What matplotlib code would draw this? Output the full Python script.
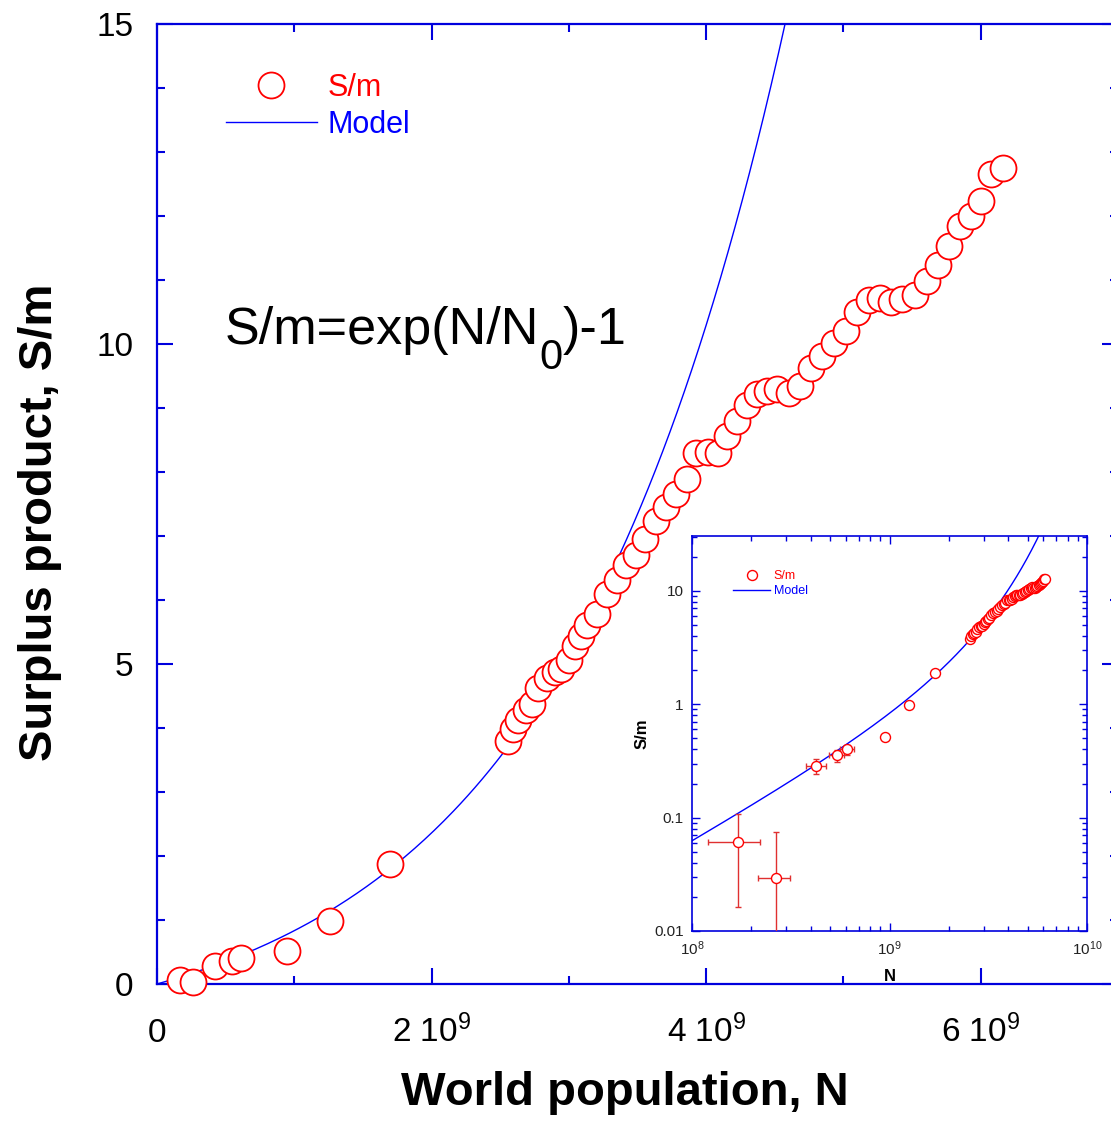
import numpy as np
import matplotlib
matplotlib.use('Agg')
import matplotlib.pyplot as plt
from matplotlib.lines import Line2D
from matplotlib.ticker import MultipleLocator, FixedLocator, FixedFormatter, LogLocator, NullFormatter

plt.rcParams['font.family'] = ['Liberation Sans', 'DejaVu Sans']
plt.rcParams['mathtext.fontset'] = 'custom'
plt.rcParams['mathtext.rm'] = 'Liberation Sans'
plt.rcParams['mathtext.it'] = 'Liberation Sans:italic'
plt.rcParams['mathtext.bf'] = 'Liberation Sans:bold'

# ---------------- data ----------------
# early estimates (with uncertainties, shown in the inset)
early_N = [1.70e8, 2.65e8, 4.25e8, 5.45e8, 6.10e8]
early_S = [0.061, 0.0295, 0.287, 0.357, 0.400]
early_N_lo = [1.20e8, 2.15e8, 3.77e8, 4.95e8, 5.60e8]
early_N_hi = [2.20e8, 3.15e8, 4.76e8, 5.85e8, 6.60e8]
early_S_lo = [0.0163, 0.001, 0.243, 0.311, 0.360]
early_S_hi = [0.108, 0.075, 0.331, 0.395, 0.437]

# later data points (no error bars)
late_N = [9.5e8, 1.26e9, 1.70e9,
          2.554e9, 2.591e9, 2.632e9, 2.685e9, 2.729e9, 2.777e9, 2.840e9, 2.900e9,
          2.945e9, 3.000e9, 3.044e9, 3.085e9, 3.135e9, 3.207e9, 3.275e9, 3.348e9,
          3.416e9, 3.486e9, 3.554e9, 3.632e9, 3.705e9, 3.782e9, 3.858e9, 3.928e9,
          4.010e9, 4.085e9, 4.155e9, 4.227e9, 4.298e9, 4.370e9, 4.440e9, 4.518e9,
          4.600e9, 4.683e9, 4.765e9, 4.843e9, 4.928e9, 5.016e9, 5.101e9, 5.187e9,
          5.270e9, 5.350e9, 5.430e9, 5.523e9, 5.608e9, 5.691e9, 5.768e9, 5.846e9,
          5.928e9, 6.003e9, 6.074e9, 6.159e9]
late_S = [0.515, 0.98, 1.87,
          3.79, 3.98, 4.13, 4.28, 4.38, 4.62, 4.78, 4.87,
          4.92, 5.07, 5.28, 5.43, 5.61, 5.78, 6.10, 6.32,
          6.54, 6.70, 6.96, 7.23, 7.46, 7.65, 7.89, 8.29,
          8.32, 8.30, 8.57, 8.80, 9.04, 9.22, 9.27, 9.29,
          9.23, 9.34, 9.62, 9.81, 10.01, 10.21, 10.50, 10.68,
          10.72, 10.66, 10.70, 10.77, 10.98, 11.23, 11.53, 11.84,
          12.00, 12.24, 12.66, 12.75]

N0 = 1.65e9  # model parameter: S/m = exp(N/N0) - 1

all_N = np.array(early_N + late_N)
all_S = np.array(early_S + late_S)

RED = '#ff0000'
BLUE = '#0000ff'
SPINE = '#0000dd'

fig = plt.figure(figsize=(11.11, 11.24), dpi=100)

# ---------------- main axes ----------------
ax = fig.add_axes([157/1111, 140/1124, (1118-157)/1111, 960/1124])
Nm = np.linspace(0, 7e9, 400)
ax.plot(Nm, np.exp(Nm / N0) - 1, color=BLUE, lw=1.0, zorder=2)
ax.plot(all_N, all_S, ls='none', marker='o', ms=18.7, mfc='white', mec=RED,
        mew=1.3, zorder=3, clip_on=False)
ax.set_xlim(0, 7e9)
ax.set_ylim(0, 15)

for s in ax.spines.values():
    s.set_color(SPINE)
    s.set_linewidth(1.6)

ax.xaxis.set_major_locator(FixedLocator([0, 2e9, 4e9, 6e9]))
ax.xaxis.set_minor_locator(MultipleLocator(1e9))
ax.set_xticklabels(['0', r'2 10$^{9}$', r'4 10$^{9}$', r'6 10$^{9}$'])
ax.yaxis.set_major_locator(MultipleLocator(5))
ax.yaxis.set_minor_locator(MultipleLocator(1))
ax.tick_params(which='both', direction='in', top=True, right=True, color=SPINE, width=1.5)
ax.tick_params(which='major', length=11.5)
ax.tick_params(which='minor', length=5.8)
ax.tick_params(axis='y', which='major', labelsize=24, pad=17)
ax.tick_params(axis='x', which='major', labelsize=24, pad=42)
for lab in ax.get_xticklabels():
    lab.set_verticalalignment('baseline')

ax.set_xlabel('World population, N', fontsize=34, fontweight='bold')
ax.xaxis.set_label_coords(0.487, -0.0905)
ax.set_ylabel('Surplus product, S/m', fontsize=34, fontweight='bold')
ax.yaxis.set_label_coords(-0.122, 0.481)
ax.yaxis.label.set_verticalalignment('center')

# formula annotation, built from pieces so the subscript sits low and large
t1 = ax.text(0.495e9, 10.0, 'S/m=exp(N/N', fontsize=37.5, va='baseline', ha='left')
t2 = ax.annotate('0', xy=(1, 0), xycoords=t1, xytext=(0, -10), textcoords='offset points',
                 fontsize=30, va='baseline', ha='left')
t3 = ax.annotate(')-1', xy=(1, 0), xycoords=(t2, t1), fontsize=37.5, va='bottom', ha='left')

h_pts = Line2D([], [], ls='none', marker='o', ms=18.7, mfc='white', mec=RED, mew=1.3)
h_line = Line2D([], [], color=BLUE, lw=1.0)
ax.legend([h_pts, h_line], ['S/m', 'Model'], loc='upper left',
          bbox_to_anchor=((226-157)/961, (984-73)/960), frameon=False, fontsize=22,
          handlelength=2.97, handletextpad=0.36, labelspacing=0.23, borderpad=0,
          borderaxespad=0, numpoints=1, labelcolor=[RED, BLUE])

# ---------------- inset ----------------
ins = fig.add_axes([692/1111, 193/1124, 395/1111, 395/1124])
ins.set_xscale('log')
ins.set_yscale('log')
Ni = np.logspace(8, 10, 400)
ins.plot(Ni, np.exp(Ni / N0) - 1, color=BLUE, lw=1.0, zorder=2)
eN = np.array(early_N)
eS = np.array(early_S)
ins.errorbar(eN, eS,
             xerr=[eN - np.array(early_N_lo), np.array(early_N_hi) - eN],
             yerr=[eS - np.array(early_S_lo), np.array(early_S_hi) - eS],
             fmt='none', ecolor='#e03030', elinewidth=1.0, capsize=2.5, capthick=1.0, zorder=3)
ins.plot(all_N, all_S, ls='none', marker='o', ms=7.2, mfc='white', mec=RED,
         mew=1.0, zorder=4)
ins.set_xlim(1e8, 1e10)
ins.set_ylim(0.01, 30.5)
for s in ins.spines.values():
    s.set_color(SPINE)
    s.set_linewidth(1.2)
ins.yaxis.set_major_locator(FixedLocator([0.01, 0.1, 1, 10]))
ins.yaxis.set_major_formatter(FixedFormatter(['0.01', '0.1', '1', '10']))
ins.yaxis.set_minor_locator(LogLocator(base=10, subs=np.arange(2, 10)))
ins.yaxis.set_minor_formatter(NullFormatter())
ins.xaxis.set_major_locator(FixedLocator([1e8, 1e9, 1e10]))
ins.set_xticklabels([r'10$^{8}$', r'10$^{9}$', r'10$^{10}$'])
ins.xaxis.set_minor_locator(LogLocator(base=10, subs=np.arange(2, 10)))
ins.xaxis.set_minor_formatter(NullFormatter())
ins.tick_params(which='both', direction='in', top=True, right=True, color=SPINE,
                width=1.0, labelsize=11, labelcolor='#222222')
ins.tick_params(which='major', length=6)
ins.tick_params(which='minor', length=3.5)
ins.tick_params(axis='y', pad=6)
ins.tick_params(axis='x', pad=6)
ins.set_xlabel('N', fontsize=12, fontweight='bold', labelpad=8)
ins.set_ylabel('S/m', fontsize=12, fontweight='bold', labelpad=3)

hi_pts = Line2D([], [], ls='none', marker='o', ms=7.2, mfc='white', mec=RED, mew=1.0)
hi_line = Line2D([], [], color=BLUE, lw=1.0)
ins.legend([hi_pts, hi_line], ['S/m', 'Model'], loc='upper left',
           bbox_to_anchor=(0.104, 0.914), frameon=False, fontsize=9,
           handlelength=2.96, handletextpad=0.3, labelspacing=0.28, borderpad=0,
           borderaxespad=0, numpoints=1, labelcolor=[RED, BLUE])

fig.savefig('out.png', dpi=100)
